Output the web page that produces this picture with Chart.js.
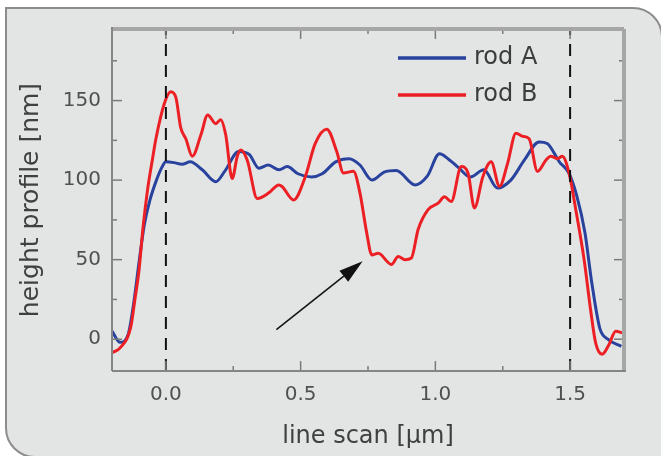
<!DOCTYPE html>
<html>
<head>
<meta charset="utf-8">
<script src="https://cdn.jsdelivr.net/npm/chart.js@4/dist/chart.umd.min.js"></script>
<style>
  html, body { margin:0; padding:0; background:#ffffff; width:661px; height:456px; overflow:hidden; }
  #panel { position:absolute; left:5px; top:7px; width:658px; height:451px; box-sizing:border-box;
           border:2px solid #8c8c8c; border-radius:0 30px 0 30px; background:#e3e5e5; }
  #wrap { position:absolute; left:0; top:0; width:661px; height:456px; }
</style>
</head>
<body>
<div id="panel"></div>
<div id="wrap"><canvas id="c" width="661" height="456"></canvas></div>
<script>
// ---- data ----
const X_RANGE = [-0.2, 1.7];
const Y_RANGE = [-20, 195];
const X_TICKS = [0, 0.5, 1.0, 1.5];
const X_MINOR = [0.25, 0.75, 1.25];
const Y_TICKS = [0, 50, 100, 150];
const Y_MINOR = [25, 75, 125, 175];
const X_TITLE = 'line scan [µm]';
const Y_TITLE = 'height profile [nm]';
const SERIES_NAMES = ['rod A', 'rod B'];

const ROD_A_X = [-0.2, -0.17, -0.14, -0.12, -0.1, -0.08, -0.06, -0.035, -0.015, 0.0, 0.03, 0.06, 0.09, 0.135, 0.185,
  0.22, 0.27, 0.31, 0.345, 0.38, 0.42, 0.45, 0.49, 0.54, 0.58, 0.63, 0.68, 0.72, 0.765, 0.81, 0.855, 0.925, 0.97,
  1.015, 1.05, 1.085, 1.13, 1.18, 1.23, 1.28, 1.33, 1.385, 1.415, 1.46, 1.495, 1.525, 1.555, 1.58, 1.61, 1.64, 1.69];
const ROD_A_Y = [5, -2, 3, 22, 48, 72, 87, 100, 108, 111.5, 111, 110, 111.5, 106.5, 99,
  106, 118, 116, 107.5, 109.5, 106.5, 108.5, 104, 102, 104, 111.5, 113.5, 109.5, 100, 105, 106, 97, 102.5,
  116.5, 113, 108, 102, 106.5, 95, 100, 112.5, 124, 123, 111.5, 104.5, 90, 67, 36, 7, 0, -4.5];

const ROD_B_X = [-0.2, -0.17, -0.13, -0.115, -0.1, -0.085, -0.068, -0.05, -0.037, -0.006, 0.018, 0.037, 0.055, 0.074,
  0.098, 0.13, 0.155, 0.185, 0.203, 0.222, 0.246, 0.265, 0.278, 0.302, 0.339, 0.382, 0.419, 0.431, 0.474, 0.517,
  0.554, 0.597, 0.634, 0.659, 0.696, 0.72, 0.745, 0.764, 0.788, 0.837, 0.862, 0.887, 0.911, 0.936, 0.973, 1.01,
  1.034, 1.059, 1.096, 1.121, 1.145, 1.176, 1.207, 1.238, 1.268, 1.299, 1.324, 1.348, 1.379, 1.41, 1.428, 1.453,
  1.471, 1.496, 1.521, 1.552, 1.576, 1.595, 1.619, 1.644, 1.669, 1.693];
const ROD_B_Y = [-8.5, -5.5, 8, 25, 43, 70, 94, 113, 126, 148, 155.5, 152, 133, 126,
  115, 128.5, 141, 135.5, 138, 128.5, 101, 115, 119, 112.5, 88.5, 92, 97, 96, 87.5, 102,
  123, 132, 118, 104.5, 105.5, 92, 67, 53, 54, 47, 52, 50, 51, 69, 81.5, 85.5,
  89.5, 86.5, 108.5, 104.5, 82.5, 102, 111.5, 96, 110.5, 129.5, 127.5, 126, 105.5, 112.5, 115, 113.5,
  115, 104.5, 81.5, 50, 18.5, -2.5, -9.5, -3.5, 5, 4];

const MARKERS = [0, 1.5];              // dashed vertical lines (µm)
const ARROW_X = [0.41, 0.73];          // arrow tail -> tip (µm)
const ARROW_Y = [6, 49];               // arrow tail -> tip (nm)

// ---- styles ----
const BLUE = 'rgb(40,66,158)';
const RED = 'rgb(236,32,36)';
const FONT = 'DejaVu Sans';

const pts = (xs, ys) => xs.map((v, i) => ({ x: v, y: ys[i] }));

const datasets = [];
MARKERS.forEach(m => datasets.push({
  data: [{ x: m, y: Y_RANGE[0] }, { x: m, y: Y_RANGE[1] }],
  borderColor: '#111', borderWidth: 2, borderDash: [12, 9], showLine: true, pointRadius: 0, order: 0
}));
datasets.push({ label: SERIES_NAMES[1], isSeries: true, data: pts(ROD_B_X, ROD_B_Y), borderColor: RED,
  borderWidth: 3, showLine: true, pointRadius: 0, cubicInterpolationMode: 'monotone', order: 1 });
datasets.push({ label: SERIES_NAMES[0], isSeries: true, data: pts(ROD_A_X, ROD_A_Y), borderColor: BLUE,
  borderWidth: 3, showLine: true, pointRadius: 0, cubicInterpolationMode: 'monotone', order: 2 });

const decor = {
  id: 'decor',
  afterDatasetsDraw(chart) {
    const { ctx, chartArea: ca, scales: { x, y } } = chart;
    ctx.save();
    // inward ticks on all four sides
    ctx.strokeStyle = '#7a7a7a';
    ctx.lineWidth = 1.5;
    const seg = (x0, y0, x1, y1) => { ctx.beginPath(); ctx.moveTo(x0, y0); ctx.lineTo(x1, y1); ctx.stroke(); };
    const xt = (v, len) => { const p = x.getPixelForValue(v); seg(p, ca.bottom, p, ca.bottom - len); seg(p, ca.top, p, ca.top + len); };
    const yt = (v, len) => { const p = y.getPixelForValue(v); seg(ca.left, p, ca.left + len, p); seg(ca.right, p, ca.right - len, p); };
    X_TICKS.forEach(v => xt(v, 10)); X_MINOR.forEach(v => xt(v, 5));
    Y_TICKS.forEach(v => yt(v, 10)); Y_MINOR.forEach(v => yt(v, 5));
    // frame
    ctx.strokeStyle = '#a6a6a6'; ctx.lineWidth = 4;
    seg(ca.left, ca.top, ca.right, ca.top);
    seg(ca.right, ca.top, ca.right, ca.bottom);
    ctx.strokeStyle = '#858585'; ctx.lineWidth = 2;
    seg(ca.left, ca.top - 2, ca.left, ca.bottom);
    seg(ca.left, ca.bottom, ca.right + 2, ca.bottom);
    // arrow
    const x0 = x.getPixelForValue(ARROW_X[0]), y0 = y.getPixelForValue(ARROW_Y[0]);
    const x1 = x.getPixelForValue(ARROW_X[1]), y1 = y.getPixelForValue(ARROW_Y[1]);
    const a = Math.atan2(y1 - y0, x1 - x0), L = 24, W = 7;
    const bx = x1 - L * Math.cos(a), by = y1 - L * Math.sin(a);
    ctx.strokeStyle = '#151515'; ctx.lineWidth = 1.6;
    seg(x0, y0, bx, by);
    ctx.fillStyle = '#111';
    ctx.beginPath();
    ctx.moveTo(x1, y1);
    ctx.lineTo(bx - W * Math.sin(a), by + W * Math.cos(a));
    ctx.lineTo(bx + W * Math.sin(a), by - W * Math.cos(a));
    ctx.closePath(); ctx.fill();
    // legend (inside top-right)
    const series = chart.data.datasets.filter(d => d.isSeries);
    ctx.font = '24px "' + FONT + '"';
    ctx.textBaseline = 'middle';
    ctx.textAlign = 'left';
    SERIES_NAMES.forEach((name, i) => {
      const ds = series.find(d => d.label === name);
      const ly = ca.top + 29 + i * 37;
      ctx.strokeStyle = ds.borderColor; ctx.lineWidth = 3.5;
      seg(ca.right - 226, ly, ca.right - 158, ly);
      ctx.fillStyle = '#3c3c3c';
      ctx.fillText(name, ca.right - 150, ly);
    });
    ctx.restore();
  }
};

new Chart(document.getElementById('c'), {
  type: 'scatter',
  data: { datasets },
  plugins: [decor],
  options: {
    responsive: false,
    animation: false,
    layout: { padding: { top: 29, right: 37, left: 0, bottom: 0 } },
    plugins: { legend: { display: false }, tooltip: { enabled: false } },
    elements: { point: { radius: 0 } },
    scales: {
      x: {
        type: 'linear', min: X_RANGE[0], max: X_RANGE[1],
        afterBuildTicks: s => { s.ticks = X_TICKS.map(v => ({ value: v })); },
        afterFit: s => { s.height = 85; },
        grid: { display: false, drawTicks: false },
        border: { display: false },
        ticks: { color: '#505050', font: { family: FONT, size: 20 }, padding: 12, maxRotation: 0, autoSkip: false,
                 callback: v => Number(v).toFixed(1) },
        title: { display: true, text: X_TITLE, color: '#404040', font: { family: FONT, size: 24, lineHeight: 1.2 },
                 padding: { top: 0, bottom: 5 } }
      },
      y: {
        type: 'linear', min: Y_RANGE[0], max: Y_RANGE[1],
        afterBuildTicks: s => { s.ticks = Y_TICKS.map(v => ({ value: v })); },
        afterFit: s => { s.width = 112; },
        grid: { display: false, drawTicks: false },
        border: { display: false },
        ticks: { color: '#505050', font: { family: FONT, size: 20 }, padding: 11, autoSkip: false,
                 callback: v => String(v) },
        title: { display: true, text: Y_TITLE, color: '#404040', font: { family: FONT, size: 25, lineHeight: 1.2 },
                 padding: { top: 16, bottom: 0 } }
      }
    }
  }
});
</script>
</body>
</html>
